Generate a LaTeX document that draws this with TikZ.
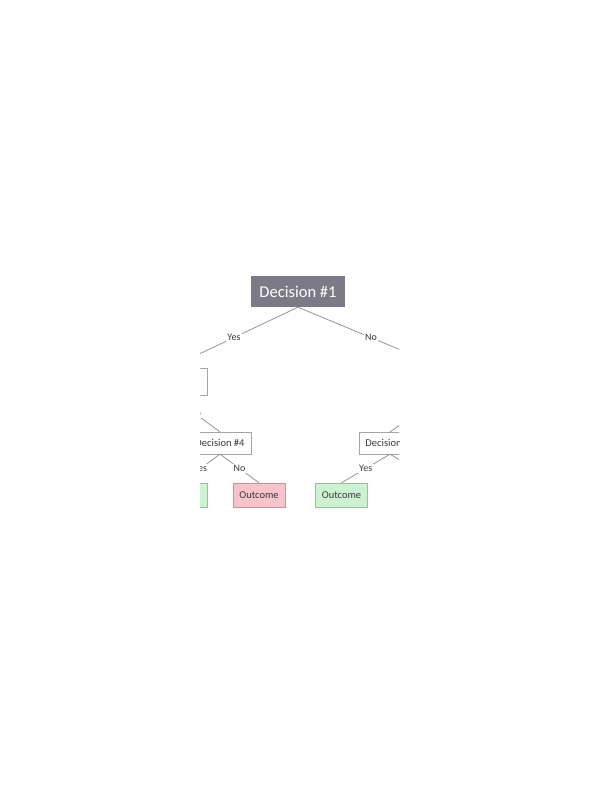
\documentclass[tikz,border=0pt]{standalone}
\usepackage{fontspec}
\setmainfont{Carlito}
\usetikzlibrary{positioning}
\definecolor{rootgray}{HTML}{7B7A86}
\definecolor{linegray}{HTML}{959595}
\definecolor{boxgray}{HTML}{A5A5A5}
\definecolor{badfill}{HTML}{F9C3CB}
\definecolor{baddraw}{HTML}{C8949B}
\definecolor{goodfill}{HTML}{CDF2D2}
\definecolor{gooddraw}{HTML}{94C29B}
\definecolor{txtgray}{HTML}{3A3A3A}

\tikzset{
  root/.style={fill=rootgray, text=white, minimum width=94pt, minimum height=31pt, inner sep=0pt, font=\fontsize{16.5}{18}\selectfont},
  dec/.style={draw=boxgray, fill=white, text=txtgray, minimum width=62pt, minimum height=22pt, inner sep=0pt, font=\fontsize{10.5}{12}\selectfont},
  good/.style={draw=gooddraw, fill=goodfill, text=txtgray, minimum width=52pt, minimum height=24pt, inner sep=0pt, font=\fontsize{10.5}{12}\selectfont},
  bad/.style={draw=baddraw, fill=badfill, text=txtgray, minimum width=52pt, minimum height=24pt, inner sep=0pt, font=\fontsize{10.5}{12}\selectfont},
  edge/.style={draw=linegray, line width=0.8pt},
  lbl/.style={fill=white, text=txtgray, inner sep=1.5pt, font=\fontsize{10}{11}\selectfont}
}

\begin{document}
\begin{tikzpicture}[x=1pt, y=-1pt]
    \useasboundingbox (0,0) rectangle (600,800);
    \clip (200,260) rectangle (399,512);
    \node(D1)[root] at (298,291.5) {Decision \#1};
    \node(D2)[dec, minimum width=74pt, minimum height=27pt] at (170,381.5) {};
    \coordinate(D3top) at (444,368);
    \coordinate(D3bot) at (444,395);
    \node(D4)[dec] at (220,443) {Decision \#4};
    \node(D5)[dec] at (390,443) {Decision \#5};
    \node(O1)[good] at (181,495) {Outcome};
    \node(O2)[bad] at (259,495) {Outcome};
    \node(O3)[good] at (341.5,495) {Outcome};
    \coordinate(O4) at (439,483);
    \draw[edge] (D1.south) -- node[lbl]{Yes} (D2.north);
    \draw[edge] (D1.south) -- node[lbl]{No} (D3top);
    \draw[edge] (D2.south) -- node[lbl]{No} (D4.north);
    \draw[edge] (D3bot) -- (D5.north);
    \draw[edge] (D4.south) -- node[lbl]{Yes} (O1.north);
    \draw[edge] (D4.south) -- node[lbl]{No} (O2.north);
    \draw[edge] (D5.south) -- node[lbl]{Yes} (O3.north);
    \draw[edge] (D5.south) -- (O4);
\end{tikzpicture}
\end{document}
